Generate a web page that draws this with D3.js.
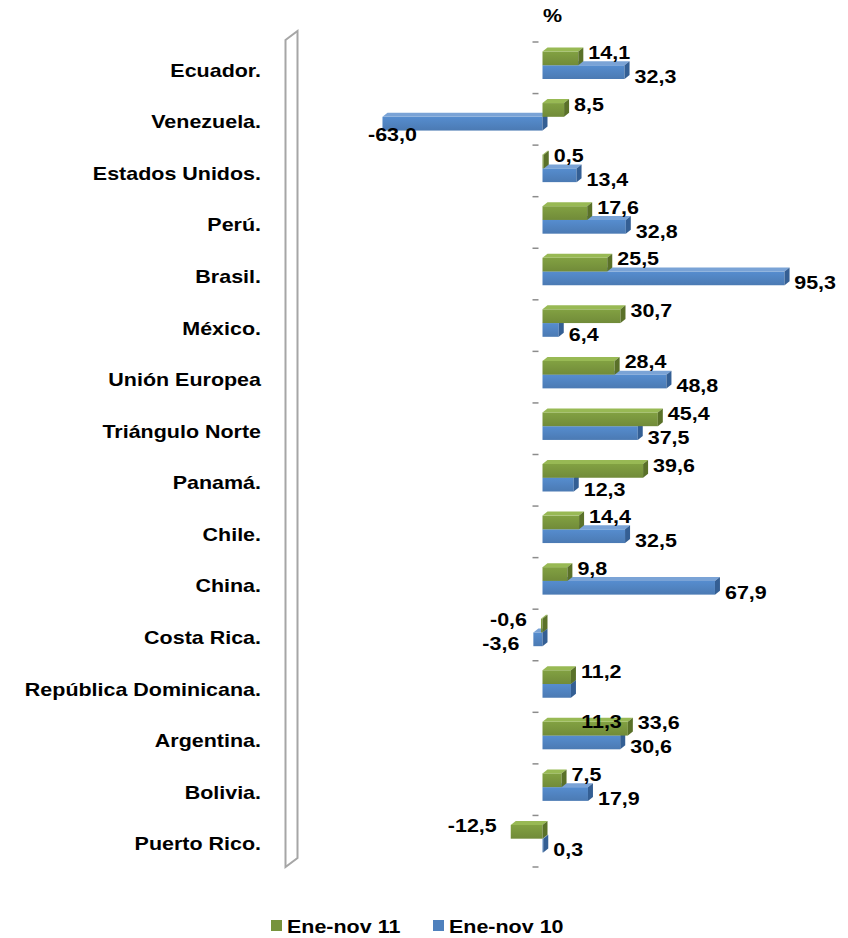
<!DOCTYPE html>
<meta charset="utf-8">
<style>
    body { margin: 0; background: #fff; }
    text { font-family: "Liberation Sans", Arial, sans-serif; font-weight: bold; fill: #000; }
</style>
<body>
<svg width="848" height="938"></svg>
<script src="https://d3js.org/d3.v7.min.js"></script>
<script>
    var categories = ["Ecuador.", "Venezuela.", "Estados Unidos.", "Perú.", "Brasil.", "México.",
        "Unión Europea", "Triángulo Norte", "Panamá.", "Chile.", "China.", "Costa Rica.",
        "República Dominicana.", "Argentina.", "Bolivia.", "Puerto Rico."];
    var seriesNames = ["Ene-nov 11", "Ene-nov 10"];
    var ene11 = [14.1, 8.5, 0.5, 17.6, 25.5, 30.7, 28.4, 45.4, 39.6, 14.4, 9.8, -0.6, 11.2, 33.6, 7.5, -12.5];
    var ene10 = [32.3, -63.0, 13.4, 32.8, 95.3, 6.4, 48.8, 37.5, 12.3, 32.5, 67.9, -3.6, 11.2, 30.6, 17.9, 0.3];
    // label shown on the chart for each bar (null = no label drawn)
    var labels11 = ["14,1", "8,5", "0,5", "17,6", "25,5", "30,7", "28,4", "45,4", "39,6", "14,4", "9,8", "-0,6", "11,2", "33,6", "7,5", "-12,5"];
    var labels10 = ["32,3", "-63,0", "13,4", "32,8", "95,3", "6,4", "48,8", "37,5", "12,3", "32,5", "67,9", "-3,6", null, "30,6", "17,9", "0,3"];
    // stray label sitting on the Argentina row
    var extraLabels = [{ cat: "Argentina.", value: 11.3, text: "11,3" }];

    var svg = d3.select("svg");
    var colors = {
        g: { front: "#77933c", top: "#98b954", side: "#5a7129" },
        b: { front: "#4f81bd", top: "#7aa3d6", side: "#345f94" }
    };
    var dx = 5, dy = -4, sx = 1.13;

    var x = d3.scaleLinear().domain([-100, 100]).range([288.5, 796.5]);
    var y = d3.scaleBand().domain(categories).range([42, 867]);
    var ys = d3.scaleBand().domain(seriesNames).range([9.5, 37]);

    // gradients
    var defs = svg.append("defs");
    [["g", colors.g], ["b", colors.b]].forEach(function (p) {
        var gr = defs.append("linearGradient").attr("id", "front-" + p[0])
            .attr("x1", 0).attr("y1", 0).attr("x2", 0).attr("y2", 1);
        gr.append("stop").attr("offset", "0%").attr("stop-color", d3.color(p[1].front).brighter(0.25));
        gr.append("stop").attr("offset", "100%").attr("stop-color", d3.color(p[1].front).darker(0.15));
    });

    function txt(g, str, px, py, anchor) {
        return g.append("text")
            .attr("transform", "translate(" + px + "," + py + ") scale(" + sx + ",1)")
            .attr("text-anchor", anchor || "start")
            .style("font-size", "19px")
            .text(str);
    }

    // back wall
    var wx = x.range()[0] - 3, wTop = y.range()[0] - 2, wBot = y.range()[1];
    svg.append("path")
        .attr("d", "M" + wx + "," + wTop + " L" + (wx + 12) + "," + (wTop - 9) +
            " L" + (wx + 12) + "," + (wBot - 9) + " L" + wx + "," + wBot + " Z")
        .attr("fill", "#fff")
        .attr("stroke", "#a6a6a6")
        .attr("stroke-width", 2);

    // category tick marks
    var tickYs = categories.map(function (c) { return y(c); }).concat([y.range()[1]]);
    svg.selectAll(".tick").data(tickYs).enter().append("line")
        .attr("x1", x(0) - 10).attr("x2", x(0) - 4)
        .attr("y1", function (d) { return d; }).attr("y2", function (d) { return d; })
        .attr("stroke", "#8c8c8c").attr("stroke-width", 1.5);

    // category labels
    var gCat = svg.append("g");
    categories.forEach(function (c) {
        txt(gCat, c, 261, y(c) + y.bandwidth() / 2 + 9, "end");
    });

    txt(svg, "%", x(0) + 10, 22, "middle");

    function drawBar(g, cat, v, series, key) {
        var c = colors[key];
        var yt = y(cat) + ys(series), yb = yt + ys.bandwidth();
        var x0 = x(Math.min(0, v)), x1 = x(Math.max(0, v));
        g.append("rect").attr("x", x0).attr("y", yt).attr("width", x1 - x0).attr("height", yb - yt)
            .attr("fill", "url(#front-" + key + ")");
        g.append("path")
            .attr("d", "M" + x0 + "," + yt + " L" + (x0 + dx) + "," + (yt + dy) + " L" + (x1 + dx) + "," + (yt + dy) + " L" + x1 + "," + yt + " Z")
            .attr("fill", c.top);
        g.append("path")
            .attr("d", "M" + x1 + "," + yt + " L" + (x1 + dx) + "," + (yt + dy) + " L" + (x1 + dx) + "," + (yb + dy) + " L" + x1 + "," + yb + " Z")
            .attr("fill", c.side);
    }

    var gBars = svg.append("g");
    categories.forEach(function (c, i) {
        drawBar(gBars, c, ene10[i], seriesNames[1], "b");
        drawBar(gBars, c, ene11[i], seriesNames[0], "g");
    });

    // data labels
    var gLab = svg.append("g");
    var leftLimit = 368, rightLimit = 836;
    function placeLabel(str, cat, v, off) {
        if (str == null) return;
        var py = y(cat) + off;
        var t;
        if (v < 0) {
            t = txt(gLab, str, x(v) - 14, py, "end");
            var bb = t.node().getBBox().width * sx;
            if (x(v) - 14 - bb < leftLimit) {
                t.attr("transform", "translate(" + leftLimit + "," + (py + 6) + ") scale(" + sx + ",1)")
                    .attr("text-anchor", "start");
            }
        } else {
            var px = x(v) + dx + 5;
            t = txt(gLab, str, px, py, "start");
            var w = t.node().getBBox().width * sx;
            if (px + w > rightLimit) {
                t.attr("transform", "translate(" + (rightLimit - w) + "," + py + ") scale(" + sx + ",1)");
            }
        }
    }
    categories.forEach(function (c, i) {
        placeLabel(labels11[i], c, ene11[i], 17);
        placeLabel(labels10[i], c, ene10[i], 41);
    });
    extraLabels.forEach(function (e) {
        placeLabel(e.text, e.cat, e.value, 16);
    });

    // legend
    var legend = svg.append("g");
    var legX = [271, 433];
    seriesNames.forEach(function (s, i) {
        var key = i === 0 ? "g" : "b";
        legend.append("rect").attr("x", legX[i]).attr("y", 920).attr("width", 11).attr("height", 11)
            .attr("fill", colors[key].front);
        txt(legend, s, legX[i] + 16, 933, "start");
    });
</script>
</body>
